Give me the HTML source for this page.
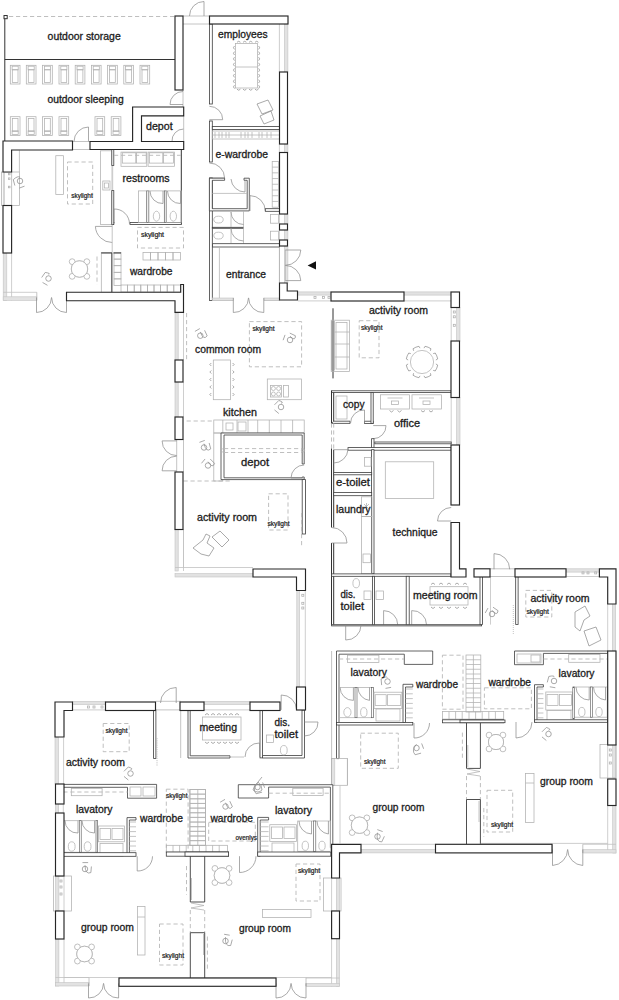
<!DOCTYPE html>
<html><head><meta charset="utf-8">
<style>
html,body{margin:0;padding:0;background:#fff;}
svg{display:block;}
text{font-family:"Liberation Sans",sans-serif;fill:#1c1c1c;stroke:#1c1c1c;stroke-width:0.3;}
.L{font-size:10px;}
.S{font-size:6.6px;stroke-width:0.22;}
.w{fill:#fff;stroke:#262626;stroke-width:1.15;}
.t{fill:#fff;stroke:#3c3c3c;stroke-width:0.8;}
.k{fill:none;stroke:#333;stroke-width:1;}
.g{fill:none;stroke:#b0b0b0;stroke-width:0.75;}
.gf{fill:#fff;stroke:#ababab;stroke-width:0.75;}
.dr{fill:none;stroke:#8e8e8e;stroke-width:0.75;}
.wb{fill:#e2e2e2;stroke:#c4c4c4;stroke-width:0.6;}
.wl{fill:none;stroke:#c2c2c2;stroke-width:0.8;}
.d{fill:none;stroke:#b8b8b8;stroke-width:0.9;stroke-dasharray:4.2 2.8;}
.cl{fill:none;stroke:#444;stroke-width:0.95;}
.t2{fill:#fff;stroke:#555;stroke-width:0.6;}
</style></head>
<body>
<svg width="619" height="1000" viewBox="0 0 619 1000">
<rect class="g" x="10.3" y="65.3" width="9.7" height="18.7"/>
<rect class="g" x="12.3" y="69.8" width="5.7" height="12.8"/>
<rect class="g" x="12.1" y="66.2" width="6.1" height="3.6"/>
<rect class="g" x="26.3" y="65.3" width="9.7" height="18.7"/>
<rect class="g" x="28.3" y="69.8" width="5.7" height="12.8"/>
<rect class="g" x="28.1" y="66.2" width="6.1" height="3.6"/>
<rect class="g" x="42.6" y="65.3" width="9.7" height="18.7"/>
<rect class="g" x="44.6" y="69.8" width="5.7" height="12.8"/>
<rect class="g" x="44.4" y="66.2" width="6.1" height="3.6"/>
<rect class="g" x="59" y="65.3" width="9.7" height="18.7"/>
<rect class="g" x="61" y="69.8" width="5.7" height="12.8"/>
<rect class="g" x="60.8" y="66.2" width="6.1" height="3.6"/>
<rect class="g" x="75.2" y="65.3" width="9.7" height="18.7"/>
<rect class="g" x="77.2" y="69.8" width="5.7" height="12.8"/>
<rect class="g" x="77" y="66.2" width="6.1" height="3.6"/>
<rect class="g" x="91.4" y="65.3" width="9.7" height="18.7"/>
<rect class="g" x="93.4" y="69.8" width="5.7" height="12.8"/>
<rect class="g" x="93.2" y="66.2" width="6.1" height="3.6"/>
<rect class="g" x="107.6" y="65.3" width="9.7" height="18.7"/>
<rect class="g" x="109.6" y="69.8" width="5.7" height="12.8"/>
<rect class="g" x="109.4" y="66.2" width="6.1" height="3.6"/>
<rect class="g" x="123.8" y="65.3" width="9.7" height="18.7"/>
<rect class="g" x="125.8" y="69.8" width="5.7" height="12.8"/>
<rect class="g" x="125.6" y="66.2" width="6.1" height="3.6"/>
<rect class="g" x="140" y="65.3" width="9.7" height="18.7"/>
<rect class="g" x="142" y="69.8" width="5.7" height="12.8"/>
<rect class="g" x="141.8" y="66.2" width="6.1" height="3.6"/>
<rect class="g" x="10.3" y="116.7" width="9.7" height="18.7"/>
<rect class="g" x="12.3" y="118.6" width="5.7" height="12.8"/>
<rect class="g" x="12.1" y="130.8" width="6.1" height="3.6"/>
<rect class="g" x="26.3" y="116.7" width="9.7" height="18.7"/>
<rect class="g" x="28.3" y="118.6" width="5.7" height="12.8"/>
<rect class="g" x="28.1" y="130.8" width="6.1" height="3.6"/>
<rect class="g" x="42.6" y="116.7" width="9.7" height="18.7"/>
<rect class="g" x="44.6" y="118.6" width="5.7" height="12.8"/>
<rect class="g" x="44.4" y="130.8" width="6.1" height="3.6"/>
<rect class="g" x="59" y="116.7" width="9.7" height="18.7"/>
<rect class="g" x="61" y="118.6" width="5.7" height="12.8"/>
<rect class="g" x="60.8" y="130.8" width="6.1" height="3.6"/>
<rect class="g" x="95" y="116.7" width="9.7" height="18.7"/>
<rect class="g" x="97" y="118.6" width="5.7" height="12.8"/>
<rect class="g" x="96.8" y="130.8" width="6.1" height="3.6"/>
<rect class="g" x="111.2" y="116.7" width="9.7" height="18.7"/>
<rect class="g" x="113.2" y="118.6" width="5.7" height="12.8"/>
<rect class="g" x="113" y="130.8" width="6.1" height="3.6"/>
<rect class="k" x="4" y="15.5" width="3.2" height="3.2"/>
<line class="k" x1="4.8" y1="18.7" x2="4.8" y2="141"/>
<line class="d" x1="9" y1="16.5" x2="175" y2="16.5"/>
<line class="k" x1="4.8" y1="59.5" x2="175" y2="59.5"/>
<line class="g" x1="72.5" y1="141.5" x2="90" y2="141.5"/>
<line class="g" x1="72.5" y1="149.5" x2="90" y2="149.5"/>
<path class="dr" d="M88.5,141.5 L88.5,127 A14.5,14.5 0 0 0 74,141.5"/>
<line class="g" x1="183" y1="90" x2="183" y2="107"/>
<path class="dr" d="M183,104.5 L170,104.5 A13,13 0 0 1 183,91.5"/>
<path class="dr" d="M183.7,141.5 L172,141.5 A11.7,11.7 0 0 1 183.7,129"/>
<line class="g" x1="183.7" y1="115.8" x2="183.7" y2="141.5"/>
<line class="g" x1="183" y1="16" x2="209.5" y2="16"/>
<line class="g" x1="183" y1="24" x2="209.5" y2="24"/>
<path class="dr" d="M204,16 L204,1.5 A14.5,14.5 0 0 0 189.5,16"/>
<rect class="g" x="1.4" y="172" width="18" height="33.5"/>
<rect class="wb" x="3.2" y="172" width="1.3" height="33.5"/>
<rect class="g" x="8.4" y="173.2" width="1.6" height="1.6"/>
<rect class="g" x="8.4" y="177.9" width="1.6" height="1.6"/>
<rect class="g" x="8.4" y="186.2" width="1.6" height="1.6"/>
<line class="g" x1="11.6" y1="172" x2="11.6" y2="205.5"/>
<line class="g" x1="19.4" y1="150.4" x2="19.4" y2="172"/>
<rect class="wb" x="3.2" y="253" width="3.6" height="47.4"/>
<line class="wl" x1="11.6" y1="253" x2="11.6" y2="300.4"/>
<rect class="wb" x="3.2" y="296.8" width="33.6" height="3.6"/>
<line class="wl" x1="3.2" y1="292.3" x2="36.8" y2="292.3"/>
<line class="g" x1="36.8" y1="292.3" x2="36.8" y2="300.4"/>
<line class="g" x1="66.5" y1="292.3" x2="66.5" y2="300.4"/>
<path class="dr" d="M36.5,297.5 L36.5,312.5 A15,15 0 0 0 51.5,297.5"/>
<path class="dr" d="M66.5,297.5 L66.5,312.5 A15,15 0 0 1 51.6,297.5"/>
<rect class="g" x="55.8" y="155.7" width="7.8" height="38.7"/>
<rect class="d" x="67.5" y="162" width="25.2" height="42"/>
<rect class="g" x="100.4" y="150.8" width="11.6" height="73.7"/>
<rect class="g" x="102.8" y="181" width="7.2" height="9"/>
<rect class="g" x="104.3" y="183" width="4.2" height="5"/>
<line class="wl" x1="112.7" y1="165.4" x2="112.7" y2="190.6"/>
<rect class="t" x="111.8" y="149.5" width="2" height="16"/>
<rect class="t" x="111.8" y="190.6" width="2" height="34"/>
<path class="dr" d="M112.2,226.4 L95.4,226.4 A16.8,16.8 0 0 0 112.2,242.5"/>
<line class="g" x1="112.2" y1="224.5" x2="112.2" y2="252.6"/>
<circle class="g" cx="79.5" cy="269" r="8.2"/>
<circle class="gf" cx="86.85" cy="276.35" r="2.9"/>
<circle class="gf" cx="72.15" cy="276.35" r="2.9"/>
<circle class="gf" cx="72.15" cy="261.65" r="2.9"/>
<circle class="gf" cx="86.85" cy="261.65" r="2.9"/>
<circle class="gf" cx="79.5" cy="269" r="8.2"/>
<line class="d" x1="97" y1="256.5" x2="97" y2="284.6"/>
<rect class="t" x="114" y="222.5" width="0.01" height="0.01"/>
<line class="k" x1="181.3" y1="149.5" x2="181.3" y2="224.5"/>
<rect class="t" x="130" y="222.5" width="51.3" height="2"/>
<path class="dr" d="M114,224 L114,209 A15,15 0 0 1 129.5,224"/>
<rect class="g" x="138.4" y="190.9" width="8.4" height="31.6"/>
<rect class="t2" x="146.8" y="190.9" width="2" height="31.6"/>
<rect class="g" x="148.8" y="190.9" width="15.5" height="31.6"/>
<rect class="t2" x="164.3" y="190.9" width="1.9" height="31.6"/>
<rect class="g" x="166.2" y="190.9" width="15" height="31.6"/>
<ellipse class="g" cx="156.5" cy="216.2" rx="3.2" ry="5"/>
<ellipse class="g" cx="173.3" cy="216.2" rx="3.2" ry="5"/>
<path class="dr" d="M163,191 L163,203.5 A12.5,12.5 0 0 1 150,191"/>
<path class="dr" d="M180.5,191 L180.5,203.5 A12.5,12.5 0 0 1 167.5,191"/>
<rect class="g" x="121" y="152.1" width="25.8" height="14.2"/>
<rect class="g" x="148.1" y="152.1" width="26.5" height="14.2"/>
<rect class="g" x="122.3" y="152.8" width="13.5" height="10.3"/>
<rect class="g" x="136.5" y="152.8" width="9.7" height="10.3"/>
<rect class="g" x="149.3" y="152.8" width="13.5" height="10.3"/>
<rect class="g" x="163.5" y="152.8" width="10" height="10.3"/>
<line class="d" x1="114" y1="155.3" x2="181" y2="155.3"/>
<rect class="d" x="137.5" y="227.4" width="46" height="20.6"/>
<rect class="g" x="143" y="252.5" width="7.5" height="7.5"/>
<rect class="g" x="150.5" y="252.5" width="7.5" height="7.5"/>
<rect class="g" x="158" y="252.5" width="7.5" height="7.5"/>
<rect class="g" x="165.5" y="252.5" width="7.5" height="7.5"/>
<rect class="g" x="173" y="252.5" width="7.5" height="7.5"/>
<rect class="g" x="114" y="252.5" width="7" height="6.6"/>
<rect class="g" x="114" y="259.1" width="7" height="6.6"/>
<rect class="g" x="114" y="265.7" width="7" height="6.6"/>
<rect class="g" x="114" y="272.3" width="7" height="6.6"/>
<rect class="g" x="114" y="278.9" width="7" height="6.6"/>
<rect class="g" x="121" y="285" width="6.6" height="7"/>
<rect class="g" x="127.6" y="285" width="6.6" height="7"/>
<rect class="g" x="134.2" y="285" width="6.6" height="7"/>
<rect class="g" x="140.8" y="285" width="6.6" height="7"/>
<rect class="g" x="147.4" y="285" width="6.6" height="7"/>
<rect class="g" x="154" y="285" width="6.6" height="7"/>
<rect class="g" x="160.6" y="285" width="6.6" height="7"/>
<rect class="g" x="167.2" y="285" width="6.6" height="7"/>
<rect class="g" x="173.8" y="285" width="6.6" height="7"/>
<rect class="g" x="101.3" y="252.6" width="10.7" height="39.7"/>
<line class="k" x1="101.3" y1="253" x2="112" y2="253"/>
<line class="cl" x1="111.8" y1="253" x2="111.8" y2="292.2"/>
<line class="k" x1="113.5" y1="253" x2="121" y2="253"/>
<rect class="t" x="209.4" y="24" width="2.9" height="80"/>
<path class="dr" d="M209.4,119.7 L222.7,119.7 A13.3,13.3 0 0 0 209.4,106.3"/>
<rect class="t" x="209.4" y="121" width="2.9" height="41"/>
<path class="dr" d="M209.4,178 L224.6,178 A15.2,15.2 0 0 0 209.4,163"/>
<rect class="t" x="209.4" y="178" width="2.9" height="122.5"/>
<rect class="wb" x="284.3" y="24" width="3.6" height="48"/>
<line class="wl" x1="279.4" y1="24" x2="279.4" y2="72"/>
<rect class="wb" x="284.3" y="144" width="3.6" height="8.5"/>
<line class="wl" x1="279.4" y1="144" x2="279.4" y2="152.5"/>
<rect class="wb" x="284.3" y="214" width="3.6" height="10"/>
<line class="wl" x1="279.4" y1="214" x2="279.4" y2="224"/>
<rect class="wb" x="284.3" y="230" width="3.6" height="10"/>
<line class="wl" x1="279.4" y1="230" x2="279.4" y2="240"/>
<rect class="wb" x="284.3" y="246" width="3.6" height="37"/>
<line class="wl" x1="279.4" y1="246" x2="279.4" y2="283"/>
<rect class="g" x="235.5" y="43.4" width="22.1" height="44.6"/>
<line class="g" x1="235.5" y1="67" x2="257.6" y2="67"/>
<path class="dr" d="M234.5,46.0 a2.2,2.2 0 0 0 0,3.4 M258.6,46.0 a2.2,2.2 0 0 1 0,3.4"/>
<path class="dr" d="M234.5,51.6 a2.2,2.2 0 0 0 0,3.4 M258.6,51.6 a2.2,2.2 0 0 1 0,3.4"/>
<path class="dr" d="M234.5,57.2 a2.2,2.2 0 0 0 0,3.4 M258.6,57.2 a2.2,2.2 0 0 1 0,3.4"/>
<path class="dr" d="M234.5,62.8 a2.2,2.2 0 0 0 0,3.4 M258.6,62.8 a2.2,2.2 0 0 1 0,3.4"/>
<path class="dr" d="M234.5,68.4 a2.2,2.2 0 0 0 0,3.4 M258.6,68.4 a2.2,2.2 0 0 1 0,3.4"/>
<path class="dr" d="M234.5,74.0 a2.2,2.2 0 0 0 0,3.4 M258.6,74.0 a2.2,2.2 0 0 1 0,3.4"/>
<path class="dr" d="M234.5,79.6 a2.2,2.2 0 0 0 0,3.4 M258.6,79.6 a2.2,2.2 0 0 1 0,3.4"/>
<path class="dr" d="M234.5,85.2 a2.2,2.2 0 0 0 0,3.4 M258.6,85.2 a2.2,2.2 0 0 1 0,3.4"/>
<path class="dr" d="M237,42.3 a2.2,2.2 0 0 1 3.4,0 M237,89.2 a2.2,2.2 0 0 0 3.4,0"/>
<path class="dr" d="M243,42.3 a2.2,2.2 0 0 1 3.4,0 M243,89.2 a2.2,2.2 0 0 0 3.4,0"/>
<path class="dr" d="M249,42.3 a2.2,2.2 0 0 1 3.4,0 M249,89.2 a2.2,2.2 0 0 0 3.4,0"/>
<path class="dr" d="M255,42.3 a2.2,2.2 0 0 1 3.4,0 M255,89.2 a2.2,2.2 0 0 0 3.4,0"/>
<path class="dr" d="M257,104 L268,100 L273,110 L262,114 Z M260,116 L271,111 L274,120 L264,124 Z"/>
<rect class="t" x="212.3" y="126.5" width="67.1" height="3"/>
<rect class="g" x="212.3" y="131" width="67.1" height="8"/>
<line class="g" x1="212.3" y1="135" x2="279.4" y2="135"/>
<line class="g" x1="215" y1="132" x2="215" y2="138"/>
<line class="g" x1="219" y1="132" x2="219" y2="138"/>
<line class="g" x1="222" y1="132" x2="222" y2="138"/>
<line class="g" x1="226" y1="132" x2="226" y2="138"/>
<line class="g" x1="229" y1="132" x2="229" y2="138"/>
<line class="g" x1="241" y1="132" x2="241" y2="138"/>
<line class="g" x1="245" y1="132" x2="245" y2="138"/>
<line class="g" x1="248" y1="132" x2="248" y2="138"/>
<line class="g" x1="252" y1="132" x2="252" y2="138"/>
<line class="g" x1="259" y1="132" x2="259" y2="138"/>
<line class="g" x1="262" y1="132" x2="262" y2="138"/>
<line class="g" x1="267" y1="132" x2="267" y2="138"/>
<line class="g" x1="271" y1="132" x2="271" y2="138"/>
<rect class="g" x="272.2" y="161.4" width="6.2" height="45.8"/>
<line class="g" x1="272.2" y1="167.12" x2="278.4" y2="167.12"/>
<line class="g" x1="272.2" y1="172.84" x2="278.4" y2="172.84"/>
<line class="g" x1="272.2" y1="178.56" x2="278.4" y2="178.56"/>
<line class="g" x1="272.2" y1="184.28" x2="278.4" y2="184.28"/>
<line class="g" x1="272.2" y1="190" x2="278.4" y2="190"/>
<line class="g" x1="272.2" y1="195.72" x2="278.4" y2="195.72"/>
<line class="g" x1="272.2" y1="201.44" x2="278.4" y2="201.44"/>
<path class="t" d="M224.6,178.2 L209.4,178.2 L209.4,210.9 L249.3,210.9 L249.3,178.2 L244,178.2 L244,180.3 L247.2,180.3 L247.2,208.7 L212.3,208.7 L212.3,180.3 L224.6,180.3 Z"/>
<line class="g" x1="212.3" y1="193.4" x2="247.2" y2="193.4"/>
<path class="dr" d="M231,179 A14,14 0 0 0 245,192 L245,180"/>
<path class="dr" d="M250,211 L250,195.6 A15.4,15.4 0 0 1 265.3,211"/>
<rect class="t" x="265.3" y="208.7" width="14.1" height="2.6"/>
<rect class="t" x="212.3" y="227.3" width="31.2" height="1"/>
<line class="g" x1="243.5" y1="211" x2="243.5" y2="243.6"/>
<ellipse class="g" cx="218.5" cy="219.6" rx="4.7" ry="3.4"/>
<ellipse class="g" cx="218.5" cy="235.6" rx="4.7" ry="3.4"/>
<path class="dr" d="M231,212 A12.5,12.5 0 0 0 243.5,224.5 M231,228.5 A12.5,12.5 0 0 0 243.5,241"/>
<line class="g" x1="231" y1="212" x2="231" y2="227"/>
<line class="g" x1="231" y1="228.5" x2="231" y2="243"/>
<rect class="g" x="270.4" y="214.5" width="8" height="8.7"/>
<rect class="g" x="270.4" y="231.2" width="8" height="8.8"/>
<rect class="t" x="212.6" y="243.7" width="66.9" height="3.3"/>
<line class="g" x1="219.4" y1="247" x2="219.4" y2="298"/>
<line class="g" x1="279.5" y1="247" x2="279.5" y2="283"/>
<line class="g" x1="285.3" y1="250" x2="285.3" y2="280.6"/>
<path class="dr" d="M285.3,250 L300.8,250 A15.5,15.5 0 0 1 285.3,265.3"/>
<path class="dr" d="M285.3,280.6 L300.8,280.6 A15.5,15.5 0 0 0 285.3,265.4"/>
<path d="M307.6,265.4 L316,261.2 L316,269.6 Z" fill="#111"/>
<rect class="wb" x="212.6" y="298" width="20.7" height="2.5"/>
<line class="wl" x1="212.6" y1="300.5" x2="233.3" y2="300.5"/>
<rect class="wb" x="264" y="298" width="15.5" height="2.5"/>
<line class="wl" x1="264" y1="300.5" x2="279.5" y2="300.5"/>
<path class="dr" d="M233.3,297.9 L233.3,312.5 A14.6,14.6 0 0 0 248.5,297.9"/>
<path class="dr" d="M263.8,297.9 L263.8,312.5 A14.6,14.6 0 0 1 248.6,297.9"/>
<rect class="wb" x="175" y="313" width="3.2" height="47"/>
<line class="wl" x1="183.5" y1="313" x2="183.5" y2="360"/>
<rect class="wb" x="175" y="382" width="3.2" height="35"/>
<line class="wl" x1="183.5" y1="382" x2="183.5" y2="417"/>
<rect class="wb" x="175" y="529.5" width="3.2" height="41.5"/>
<line class="wl" x1="183.5" y1="529.5" x2="183.5" y2="571"/>
<rect class="wb" x="175" y="573.6" width="78" height="3.4"/>
<line class="wl" x1="175" y1="567.5" x2="253" y2="567.5"/>
<line class="wl" x1="183.5" y1="529.5" x2="183.5" y2="567.5"/>
<line class="g" x1="176.7" y1="439.5" x2="176.7" y2="472"/>
<line class="g" x1="183.5" y1="439.5" x2="183.5" y2="472"/>
<path class="dr" d="M176.7,440.9 L162.1,440.9 A14.6,14.6 0 0 0 176.7,455.6"/>
<path class="dr" d="M176.7,470.8 L162.1,470.8 A14.6,14.6 0 0 1 176.7,456.1"/>
<line class="d" x1="186.6" y1="313" x2="186.6" y2="359.6"/>
<line class="d" x1="186.6" y1="421" x2="213.8" y2="421"/>
<line class="d" x1="183.5" y1="481" x2="230.6" y2="481"/>
<rect class="d" x="249.4" y="321.6" width="52.2" height="45.2"/>
<rect class="g" x="213.3" y="360" width="17.3" height="39.7"/>
<path class="dr" d="M211.3,363.0 l-1.5,1.5 l1.5,1.5 M232.6,363.0 l1.5,1.5 l-1.5,1.5"/>
<path class="dr" d="M211.3,370.5 l-1.5,1.5 l1.5,1.5 M232.6,370.5 l1.5,1.5 l-1.5,1.5"/>
<path class="dr" d="M211.3,378.0 l-1.5,1.5 l1.5,1.5 M232.6,378.0 l1.5,1.5 l-1.5,1.5"/>
<path class="dr" d="M211.3,385.5 l-1.5,1.5 l1.5,1.5 M232.6,385.5 l1.5,1.5 l-1.5,1.5"/>
<path class="dr" d="M211.3,393.0 l-1.5,1.5 l1.5,1.5 M232.6,393.0 l1.5,1.5 l-1.5,1.5"/>
<rect class="g" x="267.3" y="379" width="34.3" height="20.7"/>
<rect class="g" x="270.6" y="385.5" width="10.9" height="11.5"/>
<rect class="g" x="283.6" y="385.5" width="5" height="11.5"/>
<circle class="g" cx="273.4" cy="388.5" r="2"/>
<circle class="g" cx="278.6" cy="388.5" r="2"/>
<circle class="g" cx="273.4" cy="394" r="2"/>
<circle class="g" cx="278.6" cy="394" r="2"/>
<rect class="g" x="213.8" y="420" width="90.4" height="13"/>
<line class="g" x1="222.8" y1="420" x2="222.8" y2="433"/>
<line class="g" x1="237" y1="420" x2="237" y2="433"/>
<line class="g" x1="248" y1="420" x2="248" y2="433"/>
<line class="g" x1="257.7" y1="420" x2="257.7" y2="433"/>
<line class="g" x1="269.3" y1="420" x2="269.3" y2="433"/>
<line class="g" x1="281" y1="420" x2="281" y2="433"/>
<line class="g" x1="292.6" y1="420" x2="292.6" y2="433"/>
<rect class="g" x="226" y="423" width="7" height="7"/>
<rect class="g" x="238" y="422" width="8" height="9"/>
<rect class="g" x="213.8" y="433" width="9" height="48"/>
<path class="t" d="M221,433 L304.2,433 L304.2,464 L302.2,464 L302.2,435 L224,435 L224,477.8 L302.2,477.8 L302.2,477 L304.2,477 L304.2,479.6 L221,479.6 Z"/>
<line class="d" x1="224" y1="448.6" x2="302" y2="448.6"/>
<line class="d" x1="224" y1="452.5" x2="302" y2="452.5"/>
<circle class="g" cx="222.8" cy="450.4" r="1.6"/><circle class="g" cx="303" cy="450.4" r="1.6"/>
<path class="dr" d="M304.2,478 L291,478 A13.2,13.2 0 0 1 304.2,465"/>
<rect class="t" x="302.2" y="479.6" width="3.3" height="54.4"/>
<line class="d" x1="301.6" y1="513" x2="301.6" y2="545.5"/>
<rect class="d" x="268.6" y="493.8" width="19.4" height="36.2"/>
<path class="dr" d="M193,548 L203,540 L206,534 L210,536 L207,543 L214,548 L209,556 L201,554 Z M212,537 L220,531 L229,540 L222,547 Z"/>
<rect class="wb" x="297.9" y="291.9" width="33.3" height="3.2"/>
<line class="wl" x1="297.9" y1="300.9" x2="331.2" y2="300.9"/>
<rect class="g" x="314" y="296.4" width="2" height="2"/>
<rect class="g" x="322.5" y="296.4" width="2" height="2"/>
<rect class="g" x="328" y="296.4" width="2" height="2"/>
<rect class="wb" x="403.7" y="291.9" width="47.5" height="3.2"/>
<line class="wl" x1="403.7" y1="300.9" x2="451.2" y2="300.9"/>
<rect class="wb" x="456.6" y="307.5" width="3.4" height="33.8"/>
<line class="wl" x1="451.2" y1="307.5" x2="451.2" y2="341.3"/>
<rect class="g" x="453.3" y="311" width="2" height="2"/>
<rect class="g" x="453.3" y="315.8" width="2" height="2"/>
<rect class="g" x="453.3" y="324.3" width="2" height="2"/>
<rect class="wb" x="456.6" y="397.5" width="3.4" height="47.5"/>
<line class="wl" x1="451.2" y1="397.5" x2="451.2" y2="445"/>
<line class="k" x1="333" y1="308.3" x2="333" y2="378.4"/>
<rect class="g" x="331.2" y="320.2" width="18.4" height="51.3"/>
<rect x="331.4" y="321" width="3.2" height="49.5" fill="#999"/>
<line class="g" x1="334.5" y1="332" x2="349.6" y2="332"/>
<line class="g" x1="334.5" y1="344" x2="349.6" y2="344"/>
<line class="g" x1="334.5" y1="357" x2="349.6" y2="357"/>
<rect class="g" x="336" y="322.5" width="11" height="46.5"/>
<rect class="d" x="359.2" y="320.7" width="19.8" height="37.1"/>
<circle class="g" cx="422" cy="362" r="11.6"/>
<path class="dr" d="M435.86,363.99 L437.70,365.06 A16,16 0 0 1 435.27,370.94 L433.21,370.39"/>
<path class="dr" d="M430.39,373.21 L430.94,375.27 A16,16 0 0 1 425.06,377.70 L423.99,375.86"/>
<path class="dr" d="M420.01,375.86 L418.94,377.70 A16,16 0 0 1 413.06,375.27 L413.61,373.21"/>
<path class="dr" d="M410.79,370.39 L408.73,370.94 A16,16 0 0 1 406.30,365.06 L408.14,363.99"/>
<path class="dr" d="M408.14,360.01 L406.30,358.94 A16,16 0 0 1 408.73,353.06 L410.79,353.61"/>
<path class="dr" d="M413.61,350.79 L413.06,348.73 A16,16 0 0 1 418.94,346.30 L420.01,348.14"/>
<path class="dr" d="M423.99,348.14 L425.06,346.30 A16,16 0 0 1 430.94,348.73 L430.39,350.79"/>
<path class="dr" d="M433.21,353.61 L435.27,353.06 A16,16 0 0 1 437.70,358.94 L435.86,360.01"/>
<rect class="t" x="331.5" y="390.8" width="119.7" height="1.8"/>
<line class="k" x1="331.5" y1="390.8" x2="331.5" y2="423.4"/>
<line class="k" x1="333.7" y1="392.6" x2="333.7" y2="421.2"/>
<path class="t" d="M333.7,421.2 L350,421.2 L350,423.4 L331.5,423.4 Z"/>
<rect class="t" x="364.5" y="421.2" width="8.7" height="2.2"/>
<rect class="t" x="371" y="392.6" width="2.2" height="30.8"/>
<rect class="g" x="336" y="396" width="11" height="23"/>
<path class="dr" d="M364.5,423.4 L364.5,410 A13.4,13.4 0 0 0 350.5,423.4"/>
<rect class="g" x="380.5" y="394.8" width="29" height="14.2"/>
<rect class="g" x="412" y="394.8" width="29.4" height="14.2"/>
<line class="g" x1="387.5" y1="398" x2="402.5" y2="398"/>
<rect class="g" x="391.5" y="401" width="7" height="3.5"/>
<path class="dr" d="M389.5,410.5 l2,1.5 l2,-1.5 M397.5,410.5 l2,1.5 l2,-1.5"/>
<line class="g" x1="419" y1="398" x2="434" y2="398"/>
<rect class="g" x="423" y="401" width="7" height="3.5"/>
<path class="dr" d="M421,410.5 l2,1.5 l2,-1.5 M429,410.5 l2,1.5 l2,-1.5"/>
<path class="dr" d="M373.2,425.6 L386,425.6 A12.8,12.8 0 0 1 373.2,438.7"/>
<rect class="t" x="371.6" y="438.7" width="2.4" height="11"/>
<rect class="t" x="374.8" y="442" width="76.4" height="1.8"/>
<rect class="t" x="348" y="447.6" width="103.2" height="2.6"/>
<line class="d" x1="331.5" y1="423.4" x2="331.5" y2="448.6"/>
<line class="d" x1="333.7" y1="423.4" x2="333.7" y2="448.6"/>
<line class="k" x1="331.5" y1="448.6" x2="331.5" y2="527.5"/>
<line class="k" x1="333.7" y1="449.7" x2="333.7" y2="527.5"/>
<line class="k" x1="331.5" y1="543" x2="331.5" y2="625.2"/>
<line class="k" x1="333.7" y1="543" x2="333.7" y2="624.7"/>
<rect class="t" x="371.6" y="449.7" width="2.4" height="124"/>
<path class="dr" d="M333.7,449.7 L348,449.7 A14.3,14.3 0 0 1 333.7,463"/>
<rect class="g" x="364.5" y="457.4" width="6.5" height="8.8"/>
<rect class="t" x="333.7" y="472.6" width="38" height="2.2"/>
<rect class="t" x="333.7" y="492.4" width="38" height="3.3"/>
<rect class="g" x="361.6" y="496.8" width="10.4" height="19.7"/>
<rect class="g" x="361.6" y="516.5" width="10.4" height="57.2"/>
<rect class="g" x="363" y="554" width="7.5" height="8.7"/>
<path class="g" d="M364,504 l5,5 M369,504 l-5,5 M366.5,503 v7"/>
<path class="dr" d="M331.5,543 L347,543 A15.5,15.5 0 0 0 331.5,527.5"/>
<rect class="g" x="385.3" y="461.8" width="48.4" height="36.7"/>
<path class="dr" d="M451.2,521 L437.5,521 A13.7,13.7 0 0 1 451.2,507.5"/>
<rect class="t" x="331.6" y="573.9" width="119.4" height="2.4"/>
<rect class="t" x="372.4" y="576.3" width="2" height="48.9"/>
<rect class="t" x="406.2" y="576.3" width="3" height="48.9"/>
<ellipse class="g" cx="356.2" cy="583.2" rx="3.3" ry="4.6"/>
<rect class="g" x="364" y="591" width="7" height="8.4"/>
<rect class="g" x="376" y="591" width="7.6" height="8.4"/>
<path class="dr" d="M383.6,624.7 L383.6,610.6 A14.1,14.1 0 0 1 397.7,624.7"/>
<path class="dr" d="M411.7,624.7 L411.7,610.6 A14.1,14.1 0 0 1 426.5,624.7"/>
<rect class="g" x="430" y="586.7" width="38" height="18.3"/>
<path class="dr" d="M431,584.5 l2,-1.5 l2,1.5 M431,607 l2,1.5 l2,-1.5"/>
<path class="dr" d="M439,584.5 l2,-1.5 l2,1.5 M439,607 l2,1.5 l2,-1.5"/>
<path class="dr" d="M447,584.5 l2,-1.5 l2,1.5 M447,607 l2,1.5 l2,-1.5"/>
<path class="dr" d="M455,584.5 l2,-1.5 l2,1.5 M455,607 l2,1.5 l2,-1.5"/>
<path class="dr" d="M463,584.5 l2,-1.5 l2,1.5 M463,607 l2,1.5 l2,-1.5"/>
<rect class="t" x="331.6" y="624.7" width="150" height="1.2"/>
<path class="dr" d="M345.7,625.2 L345.7,640 A14.8,14.8 0 0 0 361,625.2"/>
<rect class="t" x="480" y="576.5" width="2.5" height="48.1"/>
<line class="wl" x1="490.5" y1="576.5" x2="490.5" y2="624.6"/>
<line class="g" x1="490" y1="568.8" x2="515.7" y2="568.8"/>
<line class="g" x1="490" y1="576.5" x2="515.7" y2="576.5"/>
<path class="dr" d="M494,569.3 L494,553.6 A15.7,15.7 0 0 1 509.7,569.3"/>
<rect class="t" x="515.7" y="576.5" width="2.4" height="48.1"/>
<rect class="wb" x="566.3" y="568.8" width="33.7" height="3.3"/>
<line class="wl" x1="566.3" y1="576.5" x2="600" y2="576.5"/>
<rect class="g" x="582" y="571.9" width="2" height="2"/>
<rect class="g" x="587" y="571.9" width="2" height="2"/>
<rect class="g" x="594.7" y="571.9" width="2" height="2"/>
<rect class="wb" x="612.3" y="603" width="3.3" height="48"/>
<line class="wl" x1="607.7" y1="603" x2="607.7" y2="651"/>
<rect class="d" x="525.8" y="590.4" width="26" height="26.6"/>
<path class="g" d="M513.3,605 v29" style="stroke-dasharray:1 1"/>
<path class="dr" d="M575,612 L585,606 L590,616 L584,620 L580,631 L575,627 Z M584,631 L596,627 L601,640 L589,646 Z"/>
<line class="g" x1="331.6" y1="651" x2="331.6" y2="844.3"/>
<path class="t" d="M336.5,651 L432.7,651 L432.7,664.4 L404.3,664.4 L404.3,654.2 L339,654.2 L339,758.6 L336.5,758.6 Z"/>
<rect class="g" x="347.4" y="655.2" width="31.5" height="7.2"/>
<line class="d" x1="339" y1="659" x2="404" y2="659"/>
<rect class="g" x="339" y="687.4" width="34" height="30.3"/>
<rect class="t2" x="355" y="687.4" width="2" height="30.3"/>
<rect class="t2" x="371.6" y="687.4" width="1.7" height="30.3"/>
<path class="dr" d="M353.4,687.4 L353.4,700.4 A13,13 0 0 1 340.1,687.4"/>
<path class="dr" d="M369.5,687.4 L369.5,700.4 A13,13 0 0 1 358,687.4"/>
<ellipse class="g" cx="347.4" cy="712.3" rx="3.6" ry="4.7"/><ellipse class="g" cx="363.8" cy="712.3" rx="3.2" ry="4.7"/>
<rect class="g" x="374" y="692.2" width="27.9" height="16.3"/>
<rect class="g" x="375.2" y="694.7" width="11" height="10.9"/>
<rect class="g" x="387.4" y="694.7" width="13.3" height="10.9"/>
<rect class="g" x="376" y="709" width="24" height="12"/>
<rect class="t" x="336.5" y="722.5" width="76.3" height="2.5"/>
<path class="t" d="M403,722.5 L403,684.3 L412.8,684.3 L412.8,687 L405.5,687 L405.5,722.5 Z"/>
<line class="g" x1="405.5" y1="689" x2="412.8" y2="689"/>
<line class="g" x1="405.5" y1="693.8" x2="412.8" y2="693.8"/>
<line class="g" x1="405.5" y1="698.6" x2="412.8" y2="698.6"/>
<line class="g" x1="405.5" y1="703.4" x2="412.8" y2="703.4"/>
<line class="g" x1="405.5" y1="708.2" x2="412.8" y2="708.2"/>
<line class="g" x1="405.5" y1="713" x2="412.8" y2="713"/>
<line class="g" x1="405.5" y1="717.8" x2="412.8" y2="717.8"/>
<rect class="d" x="442.4" y="655.2" width="20.6" height="54"/>
<rect class="g" x="466" y="655" width="14.8" height="57"/>
<line class="g" x1="466" y1="659.75" x2="480.8" y2="659.75"/>
<line class="g" x1="466" y1="664.5" x2="480.8" y2="664.5"/>
<line class="g" x1="466" y1="669.25" x2="480.8" y2="669.25"/>
<line class="g" x1="466" y1="674" x2="480.8" y2="674"/>
<line class="g" x1="466" y1="678.75" x2="480.8" y2="678.75"/>
<line class="g" x1="466" y1="683.5" x2="480.8" y2="683.5"/>
<line class="g" x1="466" y1="688.25" x2="480.8" y2="688.25"/>
<line class="g" x1="466" y1="693" x2="480.8" y2="693"/>
<line class="g" x1="466" y1="697.75" x2="480.8" y2="697.75"/>
<line class="g" x1="466" y1="702.5" x2="480.8" y2="702.5"/>
<line class="g" x1="466" y1="707.25" x2="480.8" y2="707.25"/>
<line class="g" x1="473.4" y1="655" x2="473.4" y2="712"/>
<rect class="g" x="442.4" y="711.6" width="61.3" height="7.5"/>
<line class="g" x1="449" y1="711.6" x2="449" y2="719.1"/>
<line class="g" x1="455.6" y1="711.6" x2="455.6" y2="719.1"/>
<line class="g" x1="462.2" y1="711.6" x2="462.2" y2="719.1"/>
<line class="g" x1="469" y1="711.6" x2="469" y2="719.1"/>
<line class="g" x1="475.6" y1="711.6" x2="475.6" y2="719.1"/>
<line class="g" x1="482.2" y1="711.6" x2="482.2" y2="719.1"/>
<line class="g" x1="488.8" y1="711.6" x2="488.8" y2="719.1"/>
<line class="g" x1="495.4" y1="711.6" x2="495.4" y2="719.1"/>
<rect class="t" x="442.4" y="719.8" width="61.3" height="3"/>
<path class="dr" d="M414,723 L414,738 A15,15 0 0 0 429.5,723"/>
<path class="t" d="M514.5,651 L607.7,651 L607.7,653.4 L543.4,653.4 L543.4,664.7 L514.5,664.7 Z"/>
<rect class="g" x="517" y="654" width="24" height="9"/>
<rect class="g" x="531" y="655" width="9" height="7"/>
<rect class="g" x="568.7" y="654.6" width="31.3" height="7.7"/>
<line class="d" x1="543.4" y1="659" x2="607" y2="659"/>
<rect class="d" x="484.4" y="687.8" width="47" height="21"/>
<path class="t" d="M534.5,722 L534.5,684.7 L543.4,684.7 L543.4,687 L537,687 L537,722 Z"/>
<line class="g" x1="537" y1="689" x2="543.4" y2="689"/>
<line class="g" x1="537" y1="693.8" x2="543.4" y2="693.8"/>
<line class="g" x1="537" y1="698.6" x2="543.4" y2="698.6"/>
<line class="g" x1="537" y1="703.4" x2="543.4" y2="703.4"/>
<line class="g" x1="537" y1="708.2" x2="543.4" y2="708.2"/>
<line class="g" x1="537" y1="713" x2="543.4" y2="713"/>
<line class="g" x1="537" y1="717.8" x2="543.4" y2="717.8"/>
<rect class="g" x="545.8" y="692" width="26.5" height="18"/>
<rect class="g" x="547" y="694.5" width="11" height="11"/>
<rect class="g" x="559.5" y="694.5" width="12" height="11"/>
<rect class="g" x="547" y="710.5" width="24" height="10"/>
<rect class="g" x="573.5" y="687" width="33.7" height="30.2"/>
<rect class="t2" x="572.8" y="687" width="1.8" height="32"/>
<rect class="t2" x="590.4" y="687" width="2.2" height="30.2"/>
<path class="dr" d="M589.2,687 L589.2,700 A13,13 0 0 1 576,687"/>
<path class="dr" d="M605.5,687 L605.5,700 A13,13 0 0 1 593.5,687"/>
<ellipse class="g" cx="581.8" cy="712" rx="3.2" ry="4.6"/><ellipse class="g" cx="599" cy="712" rx="3.2" ry="4.6"/>
<rect class="t" x="534.5" y="719.8" width="73.2" height="2.5"/>
<rect class="t" x="460" y="720" width="45" height="2.7"/>
<path class="dr" d="M516,722 L516,738 A16,16 0 0 0 532,722"/>
<rect class="wb" x="331.6" y="758.6" width="3.2" height="26.7"/>
<line class="wl" x1="347.4" y1="758.6" x2="347.4" y2="785.3"/>
<rect class="g" x="331.6" y="758.6" width="15.8" height="26.7"/>
<line class="wl" x1="340" y1="785.3" x2="340" y2="843.4"/>
<rect class="d" x="360.7" y="733.2" width="37.6" height="35.1"/>
<circle class="g" cx="359.5" cy="825.2" r="8.2"/>
<circle class="gf" cx="366.85" cy="832.55" r="2.9"/>
<circle class="gf" cx="352.15" cy="832.55" r="2.9"/>
<circle class="gf" cx="352.15" cy="817.85" r="2.9"/>
<circle class="gf" cx="366.85" cy="817.85" r="2.9"/>
<circle class="gf" cx="359.5" cy="825.2" r="8.2"/>
<rect class="wb" x="361" y="849.5" width="74.5" height="3.4"/>
<line class="wl" x1="361" y1="844.3" x2="435.5" y2="844.3"/>
<line class="d" x1="462.4" y1="732.6" x2="462.4" y2="759.6"/>
<path class="cl" d="M466.5,723 L466.5,768.4 L480.4,768.4 L480.4,723"/>
<line class="g" x1="467.8" y1="745" x2="467.8" y2="767"/>
<path class="g" d="M467,769 L480,771.5 L467,774 L480,776"/>
<line class="d" x1="466.5" y1="776" x2="466.5" y2="799.5"/>
<line class="d" x1="480.4" y1="776" x2="480.4" y2="799.5"/>
<path class="cl" d="M466.5,844 L466.5,799.5 L480.4,799.5 L480.4,844"/>
<line class="g" x1="479" y1="801" x2="479" y2="822"/>
<line class="d" x1="483.8" y1="808" x2="483.8" y2="836.6"/>
<circle class="g" cx="496" cy="742" r="7.6"/>
<circle class="gf" cx="502.93" cy="748.93" r="2.9"/>
<circle class="gf" cx="489.07" cy="748.93" r="2.9"/>
<circle class="gf" cx="489.07" cy="735.07" r="2.9"/>
<circle class="gf" cx="502.93" cy="735.07" r="2.9"/>
<circle class="gf" cx="496" cy="742" r="7.6"/>
<rect class="wb" x="612.7" y="744.5" width="3.3" height="33.5"/>
<line class="wl" x1="607.7" y1="744.5" x2="607.7" y2="778"/>
<rect class="g" x="600" y="744.5" width="16" height="33.5"/>
<rect class="g" x="609.3" y="749" width="2" height="2"/>
<rect class="g" x="609.3" y="754" width="2" height="2"/>
<rect class="g" x="609.3" y="762" width="2" height="2"/>
<rect class="wb" x="612.7" y="805.5" width="3.3" height="47.5"/>
<line class="wl" x1="607.7" y1="805.5" x2="607.7" y2="853"/>
<rect class="wb" x="582.8" y="849.7" width="33.2" height="3.3"/>
<line class="wl" x1="582.8" y1="844.3" x2="616" y2="844.3"/>
<rect class="g" x="525.5" y="773.6" width="8.5" height="48.8"/>
<line class="g" x1="525.5" y1="783" x2="534" y2="783"/>
<rect class="d" x="487" y="790.3" width="25.7" height="41.7"/>
<line class="g" x1="552.5" y1="844.3" x2="552.5" y2="852.9"/>
<line class="g" x1="582.8" y1="844.3" x2="582.8" y2="852.9"/>
<path class="dr" d="M552.5,849.5 L552.5,865.5 A16,16 0 0 0 567.6,849.5"/>
<path class="dr" d="M582.8,849.5 L582.8,865.5 A16,16 0 0 1 567.7,849.5"/>
<line class="wl" x1="480.5" y1="843.4" x2="607.7" y2="843.4"/>
<rect class="g" x="323.6" y="878" width="17.4" height="33"/>
<rect class="wb" x="336.3" y="878" width="3.2" height="33"/>
<line class="wl" x1="331.6" y1="878" x2="331.6" y2="911"/>
<rect class="wb" x="336.3" y="938.7" width="3.2" height="47.9"/>
<line class="wl" x1="331.6" y1="938.7" x2="331.6" y2="986.6"/>
<rect class="wb" x="306" y="983.4" width="33.5" height="3.2"/>
<line class="wl" x1="306" y1="978" x2="339.5" y2="978"/>
<rect class="wb" x="72.6" y="701.3" width="32.8" height="3.2"/>
<line class="wl" x1="72.6" y1="709.9" x2="105.4" y2="709.9"/>
<rect class="g" x="87.5" y="706" width="2" height="2"/>
<rect class="g" x="93" y="706" width="2" height="2"/>
<rect class="g" x="101" y="706" width="2" height="2"/>
<rect class="t" x="153.6" y="709.9" width="2.3" height="48.6"/>
<path class="g" d="M157,738 v28" style="stroke-dasharray:1.2 1"/>
<line class="g" x1="155.9" y1="701.3" x2="180.7" y2="701.3"/>
<line class="g" x1="155.9" y1="709.9" x2="180.7" y2="709.9"/>
<path class="dr" d="M176.2,703 L176.2,687.5 A15.5,15.5 0 0 0 160.5,703"/>
<rect class="wb" x="55" y="737.5" width="3.4" height="46.5"/>
<line class="wl" x1="63.6" y1="737.5" x2="63.6" y2="784"/>
<rect class="d" x="103.2" y="723.5" width="26" height="28.2"/>
<path class="t" d="M63.3,784.4 L156.6,784.4 L156.6,798.2 L127.5,798.2 L127.5,787.3 L63.3,787.3 Z"/>
<rect class="g" x="130" y="787" width="11" height="9"/>
<rect class="g" x="143" y="787" width="12" height="9"/>
<rect class="g" x="71.3" y="788.5" width="30.8" height="7.2"/>
<line class="d" x1="63.3" y1="792" x2="127.5" y2="792"/>
<rect class="wb" x="55.3" y="803.7" width="3.4" height="9.7"/>
<line class="wl" x1="63.3" y1="803.7" x2="63.3" y2="813.4"/>
<rect class="g" x="63.3" y="820.7" width="34" height="31.5"/>
<rect class="t2" x="79.6" y="820.7" width="1.6" height="31.5"/>
<rect class="t2" x="96" y="820.7" width="1.7" height="31.5"/>
<path class="dr" d="M78,820.7 L78,833 A12.3,12.3 0 0 1 65,820.7"/>
<path class="dr" d="M94.5,820.7 L94.5,833 A12.3,12.3 0 0 1 82,820.7"/>
<ellipse class="g" cx="71.7" cy="846.5" rx="3.4" ry="4.7"/><ellipse class="g" cx="87.6" cy="846.5" rx="3.4" ry="4.7"/>
<rect class="g" x="98.5" y="826" width="26.1" height="15.8"/>
<rect class="g" x="100" y="828.5" width="10.5" height="11"/>
<rect class="g" x="112" y="828.5" width="11" height="11"/>
<rect class="g" x="100" y="843.5" width="23" height="13"/>
<path class="t" d="M127,855 L127,817.6 L136,817.6 L136,820 L129.4,820 L129.4,855 Z"/>
<line class="g" x1="129.4" y1="822" x2="136" y2="822"/>
<line class="g" x1="129.4" y1="826.8" x2="136" y2="826.8"/>
<line class="g" x1="129.4" y1="831.6" x2="136" y2="831.6"/>
<line class="g" x1="129.4" y1="836.4" x2="136" y2="836.4"/>
<line class="g" x1="129.4" y1="841.2" x2="136" y2="841.2"/>
<line class="g" x1="129.4" y1="846" x2="136" y2="846"/>
<line class="g" x1="129.4" y1="850.8" x2="136" y2="850.8"/>
<rect class="t" x="63.3" y="852.7" width="72.7" height="3.6"/>
<path class="dr" d="M137.2,856.3 L137.2,871 A14.7,14.7 0 0 0 152.5,856.3"/>
<rect class="d" x="166.3" y="789.2" width="21.8" height="63.5"/>
<rect class="g" x="190" y="789.5" width="15.6" height="55.8"/>
<line class="g" x1="190" y1="794.15" x2="205.6" y2="794.15"/>
<line class="g" x1="190" y1="798.8" x2="205.6" y2="798.8"/>
<line class="g" x1="190" y1="803.45" x2="205.6" y2="803.45"/>
<line class="g" x1="190" y1="808.1" x2="205.6" y2="808.1"/>
<line class="g" x1="190" y1="812.75" x2="205.6" y2="812.75"/>
<line class="g" x1="190" y1="817.4" x2="205.6" y2="817.4"/>
<line class="g" x1="190" y1="822.05" x2="205.6" y2="822.05"/>
<line class="g" x1="190" y1="826.7" x2="205.6" y2="826.7"/>
<line class="g" x1="190" y1="831.35" x2="205.6" y2="831.35"/>
<line class="g" x1="190" y1="836" x2="205.6" y2="836"/>
<line class="g" x1="190" y1="840.65" x2="205.6" y2="840.65"/>
<line class="g" x1="197.8" y1="789.5" x2="197.8" y2="845.3"/>
<rect class="g" x="166.3" y="845.3" width="61.1" height="6.7"/>
<line class="g" x1="173" y1="845.3" x2="173" y2="852"/>
<line class="g" x1="179.6" y1="845.3" x2="179.6" y2="852"/>
<line class="g" x1="186.2" y1="845.3" x2="186.2" y2="852"/>
<line class="g" x1="192.8" y1="845.3" x2="192.8" y2="852"/>
<line class="g" x1="199.4" y1="845.3" x2="199.4" y2="852"/>
<line class="g" x1="206" y1="845.3" x2="206" y2="852"/>
<line class="g" x1="212.6" y1="845.3" x2="212.6" y2="852"/>
<line class="g" x1="219.2" y1="845.3" x2="219.2" y2="852"/>
<rect class="t" x="166.3" y="852" width="62.3" height="4.2"/>
<rect class="wb" x="204" y="701.3" width="46" height="3.2"/>
<line class="wl" x1="204" y1="709.9" x2="250" y2="709.9"/>
<line class="g" x1="180.7" y1="709.9" x2="180.7" y2="758"/>
<path class="t" d="M188,709.9 L190.2,709.9 L190.2,755.8 L230,755.8 L230,758 L188,758 Z"/>
<line class="g" x1="230" y1="757" x2="244" y2="757"/>
<rect class="t" x="260" y="709.9" width="2.5" height="48"/>
<rect class="g" x="202.5" y="717" width="38.5" height="23"/>
<path class="dr" d="M205,715 l2,-1.5 l2,1.5 M205,742 l2,1.5 l2,-1.5"/>
<path class="dr" d="M211,715 l2,-1.5 l2,1.5 M211,742 l2,1.5 l2,-1.5"/>
<path class="dr" d="M217,715 l2,-1.5 l2,1.5 M217,742 l2,1.5 l2,-1.5"/>
<path class="dr" d="M223,715 l2,-1.5 l2,1.5 M223,742 l2,1.5 l2,-1.5"/>
<path class="dr" d="M229,715 l2,-1.5 l2,1.5 M229,742 l2,1.5 l2,-1.5"/>
<path class="dr" d="M235,715 l2,-1.5 l2,1.5 M235,742 l2,1.5 l2,-1.5"/>
<path class="dr" d="M259.5,757 L259.5,743 A14,14 0 0 0 245,757"/>
<path class="t" d="M262.5,755.5 L302,755.5 L302,710 L304.5,710 L304.5,758 L262.5,758 Z"/>
<rect class="g" x="266.5" y="735" width="7" height="7.5"/>
<ellipse class="g" cx="283.8" cy="750.2" rx="3.4" ry="4.7"/>
<path class="dr" d="M304.5,722 L318,722 A13.5,13.5 0 0 1 304.5,736"/>
<path class="dr" d="M281.2,709.9 L281.2,695 A14.9,14.9 0 0 1 296.5,709.9"/>
<rect class="wb" x="296.8" y="590.5" width="2.8" height="96.5"/>
<line class="wl" x1="305.3" y1="590.5" x2="305.3" y2="687"/>
<rect class="g" x="301.8" y="594.3" width="2" height="2"/>
<rect class="g" x="301.8" y="602.3" width="2" height="2"/>
<rect class="g" x="301.8" y="607" width="2" height="2"/>
<path class="t" d="M238.3,784.7 L332.8,784.7 L332.8,847.7 L330.4,847.7 L330.4,787.1 L268.6,787.1 L268.6,798 L238.3,798 Z"/>
<path class="dr" d="M253,790 q5,4 9,0 q0,-5 -4,-8 q-4,3 -5,8 M258,782 l4,-5"/>
<rect class="g" x="292.8" y="788.3" width="30.3" height="7.3"/>
<line class="d" x1="268.6" y1="793.2" x2="330" y2="793.2"/>
<rect class="g" x="189.8" y="789.5" width="15.8" height="55.8"/>
<line class="g" x1="189.8" y1="794.15" x2="205.6" y2="794.15"/>
<line class="g" x1="189.8" y1="798.8" x2="205.6" y2="798.8"/>
<line class="g" x1="189.8" y1="803.45" x2="205.6" y2="803.45"/>
<line class="g" x1="189.8" y1="808.1" x2="205.6" y2="808.1"/>
<line class="g" x1="189.8" y1="812.75" x2="205.6" y2="812.75"/>
<line class="g" x1="189.8" y1="817.4" x2="205.6" y2="817.4"/>
<line class="g" x1="189.8" y1="822.05" x2="205.6" y2="822.05"/>
<line class="g" x1="189.8" y1="826.7" x2="205.6" y2="826.7"/>
<line class="g" x1="189.8" y1="831.35" x2="205.6" y2="831.35"/>
<line class="g" x1="189.8" y1="836" x2="205.6" y2="836"/>
<line class="g" x1="189.8" y1="840.65" x2="205.6" y2="840.65"/>
<rect class="d" x="208.7" y="822.3" width="46.6" height="18.7"/>
<path class="t" d="M257.7,856.2 L257.7,817.4 L268.6,817.4 L268.6,820 L260.2,820 L260.2,856.2 Z"/>
<line class="g" x1="260.2" y1="822" x2="268.6" y2="822"/>
<line class="g" x1="260.2" y1="826.8" x2="268.6" y2="826.8"/>
<line class="g" x1="260.2" y1="831.6" x2="268.6" y2="831.6"/>
<line class="g" x1="260.2" y1="836.4" x2="268.6" y2="836.4"/>
<line class="g" x1="260.2" y1="841.2" x2="268.6" y2="841.2"/>
<line class="g" x1="260.2" y1="846" x2="268.6" y2="846"/>
<line class="g" x1="260.2" y1="850.8" x2="268.6" y2="850.8"/>
<rect class="g" x="269.8" y="824.7" width="26.7" height="16.9"/>
<rect class="g" x="271.5" y="827" width="11" height="11.5"/>
<rect class="g" x="284" y="827" width="11" height="11.5"/>
<rect class="g" x="272" y="843" width="22" height="12"/>
<rect class="g" x="297.7" y="821" width="32.7" height="30.3"/>
<rect class="t2" x="313.4" y="821" width="2.4" height="30.3"/>
<path class="dr" d="M311.5,821 L311.5,834 A13,13 0 0 1 299,821"/>
<path class="dr" d="M328.4,821 L328.4,834 A13,13 0 0 1 317,821"/>
<ellipse class="g" cx="305.3" cy="845.8" rx="3.2" ry="4.6"/><ellipse class="g" cx="322" cy="845.8" rx="3.2" ry="4.6"/>
<rect class="t" x="185" y="852" width="43.6" height="4.2"/>
<rect class="t" x="257.7" y="852" width="73.1" height="4.2"/>
<path class="dr" d="M239.5,856.2 L239.5,872.5 A16.3,16.3 0 0 0 256,856.2"/>
<rect class="wb" x="55.5" y="876" width="3.4" height="35"/>
<line class="wl" x1="64" y1="876" x2="64" y2="911"/>
<rect class="g" x="53.5" y="876" width="18" height="35"/>
<rect class="g" x="60" y="880" width="2" height="2"/>
<rect class="g" x="60" y="886" width="2" height="2"/>
<rect class="g" x="60" y="893" width="2" height="2"/>
<rect class="wb" x="55.5" y="939" width="3.4" height="47"/>
<line class="wl" x1="64" y1="939" x2="64" y2="986"/>
<rect class="wb" x="55.5" y="982.6" width="33.5" height="3.4"/>
<line class="wl" x1="55.5" y1="977.5" x2="89" y2="977.5"/>
<line class="g" x1="89" y1="977.5" x2="89" y2="986"/>
<line class="g" x1="119" y1="977.5" x2="119" y2="986"/>
<path class="dr" d="M88.5,983.4 L88.5,998 A14.6,14.6 0 0 0 103.5,983.4"/>
<path class="dr" d="M118.6,983.4 L118.6,998 A14.6,14.6 0 0 1 103.6,983.4"/>
<line class="g" x1="276" y1="977.5" x2="276" y2="986"/>
<line class="g" x1="306" y1="977.5" x2="306" y2="986"/>
<path class="dr" d="M276,983.4 L276,998 A14.6,14.6 0 0 0 291,983.4"/>
<path class="dr" d="M306,983.4 L306,998 A14.6,14.6 0 0 1 291.1,983.4"/>
<line class="wl" x1="64" y1="977.5" x2="331.6" y2="977.5"/>
<path class="cl" d="M190.3,856 L190.3,902 L204.7,902 L204.7,856"/>
<line class="g" x1="191.5" y1="878" x2="191.5" y2="900"/>
<path class="g" d="M191,903 L204,905.5 L191,908 L204,910"/>
<line class="d" x1="190.3" y1="910" x2="190.3" y2="932.7"/>
<line class="d" x1="204.7" y1="910" x2="204.7" y2="932.7"/>
<path class="cl" d="M190.3,978 L190.3,932.7 L204.7,932.7 L204.7,978"/>
<line class="g" x1="203.5" y1="934" x2="203.5" y2="955"/>
<line class="d" x1="186.5" y1="866" x2="186.5" y2="894.6"/>
<line class="d" x1="207.4" y1="936.5" x2="207.4" y2="969"/>
<rect class="g" x="137.5" y="906.5" width="7.5" height="48.5"/>
<line class="g" x1="137.5" y1="917" x2="145" y2="917"/>
<rect class="d" x="159.5" y="924" width="23.5" height="41"/>
<circle class="g" cx="84.5" cy="954" r="7.8"/>
<circle class="gf" cx="91.57" cy="961.07" r="2.9"/>
<circle class="gf" cx="77.43" cy="961.07" r="2.9"/>
<circle class="gf" cx="77.43" cy="946.93" r="2.9"/>
<circle class="gf" cx="91.57" cy="946.93" r="2.9"/>
<circle class="gf" cx="84.5" cy="954" r="7.8"/>
<circle class="g" cx="222" cy="875.5" r="7.8"/>
<circle class="gf" cx="229.07" cy="882.57" r="2.9"/>
<circle class="gf" cx="214.93" cy="882.57" r="2.9"/>
<circle class="gf" cx="214.93" cy="868.43" r="2.9"/>
<circle class="gf" cx="229.07" cy="868.43" r="2.9"/>
<circle class="gf" cx="222" cy="875.5" r="7.8"/>
<rect class="g" x="262.5" y="909.5" width="48.5" height="8"/>
<rect class="d" x="296" y="864" width="24" height="37"/>
<circle class="dr" cx="20.00" cy="181.00" r="2.75"/>
<path class="dr" d="M13.26,179.62 Q17.79,175.54 20.00,177.23 M24.56,186.15 L19.25,188.10 M13.26,179.62 L14.85,185.56"/>
<circle class="dr" cx="48.50" cy="278.50" r="2.75"/>
<path class="dr" d="M45.22,272.45 Q51.26,273.30 48.50,274.73 M47.49,285.30 L42.58,282.49 M45.22,272.45 L41.70,277.49"/>
<circle class="dr" cx="200.30" cy="335.70" r="2.75"/>
<path class="dr" d="M207.18,335.89 Q203.42,340.69 200.30,331.93 M194.91,331.42 L199.81,328.58 M207.18,335.89 L204.58,330.31"/>
<circle class="dr" cx="290.00" cy="340.00" r="2.75"/>
<path class="dr" d="M295.39,335.72 Q295.60,341.82 290.00,336.23 M283.12,340.19 L285.04,334.86 M295.39,335.72 L289.81,333.12"/>
<circle class="dr" cx="281.00" cy="407.00" r="2.75"/>
<path class="dr" d="M278.82,400.48 Q284.62,402.36 281.00,403.23 M278.82,413.52 L274.48,409.90 M278.82,400.48 L274.48,404.82"/>
<circle class="dr" cx="204.00" cy="447.50" r="2.75"/>
<path class="dr" d="M210.74,448.88 Q206.21,452.96 204.00,443.73 M199.44,442.35 L204.75,440.40 M210.74,448.88 L209.15,442.94"/>
<circle class="dr" cx="208.00" cy="465.50" r="2.75"/>
<path class="dr" d="M214.53,463.32 Q212.64,469.12 208.00,461.73 M201.47,463.32 L205.10,458.98 M214.53,463.32 L210.18,458.98"/>
<circle class="dr" cx="492.00" cy="614.00" r="2.75"/>
<path class="dr" d="M498.05,610.72 Q497.20,616.76 492.00,610.23 M485.20,612.99 L488.01,608.08 M498.05,610.72 L493.01,607.20"/>
<circle class="dr" cx="387.50" cy="681.50" r="2.75"/>
<path class="dr" d="M381.10,678.97 Q386.28,675.74 387.50,677.73 M391.10,687.36 L385.53,688.36 M381.10,678.97 L381.64,685.10"/>
<circle class="dr" cx="416.50" cy="748.00" r="2.75"/>
<path class="dr" d="M415.12,754.74 Q411.04,750.21 416.50,744.23 M421.65,743.44 L423.60,748.75 M415.12,754.74 L421.06,753.15"/>
<circle class="dr" cx="377.50" cy="836.50" r="2.75"/>
<path class="dr" d="M381.78,841.89 Q375.68,842.10 377.50,832.73 M377.31,829.62 L382.64,831.54 M381.78,841.89 L384.38,836.31"/>
<circle class="dr" cx="548.50" cy="734.00" r="2.75"/>
<path class="dr" d="M546.33,727.48 Q552.12,729.36 548.50,730.23 M546.33,740.52 L541.98,736.90 M546.33,727.48 L541.98,731.83"/>
<circle class="dr" cx="554.00" cy="681.00" r="2.75"/>
<path class="dr" d="M548.85,676.44 Q554.82,675.17 554.00,677.23 M555.38,687.74 L549.80,686.77 M548.85,676.44 L547.26,682.38"/>
<circle class="dr" cx="130.50" cy="773.50" r="2.75"/>
<path class="dr" d="M128.32,766.98 Q134.12,768.86 130.50,769.73 M128.32,780.02 L123.97,776.40 M128.32,766.98 L123.97,771.33"/>
<circle class="dr" cx="257.50" cy="787.00" r="2.75"/>
<path class="dr" d="M256.12,793.74 Q252.04,789.21 257.50,783.23 M262.65,782.44 L264.60,787.75 M256.12,793.74 L262.06,792.15"/>
<circle class="dr" cx="225.50" cy="806.50" r="2.75"/>
<path class="dr" d="M232.38,806.69 Q228.62,811.49 225.50,802.73 M220.11,802.22 L225.01,799.38 M232.38,806.69 L229.78,801.11"/>
<circle class="dr" cx="85.00" cy="869.00" r="2.75"/>
<path class="dr" d="M90.86,872.60 Q85.21,874.88 85.00,865.23 M82.47,862.60 L88.13,862.58 M90.86,872.60 L91.40,866.47"/>
<circle class="dr" cx="225.50" cy="941.00" r="2.75"/>
<path class="dr" d="M230.65,945.56 Q224.68,946.83 225.50,937.23 M224.12,934.26 L229.70,935.23 M230.65,945.56 L232.24,939.62"/>
<rect class="w" x="175" y="16" width="8" height="74"/>
<path class="w" d="M90,141.5 L132.6,141.5 L132.6,107 L183.7,107 L183.7,115.8 L141.5,115.8 L141.5,141.5 L183.7,141.5 L183.7,149.5 L90,149.5 Z"/>
<path class="w" d="M3,141 L72.5,141 L72.5,150 L11.6,150 L11.6,172 L3,172 Z"/>
<rect class="w" x="3" y="205.5" width="8.6" height="47.5"/>
<path class="w" d="M66.5,292.2 L180.7,292.2 L180.7,284.5 L183.5,284.5 L183.5,312.4 L175,312.4 L175,300.7 L66.5,300.7 Z"/>
<rect class="w" x="209.5" y="16" width="78.5" height="8"/>
<rect class="w" x="279.5" y="72" width="8" height="72"/>
<rect class="w" x="279.5" y="152.5" width="8" height="61.5"/>
<rect class="w" x="279.5" y="224" width="8" height="6"/>
<rect class="w" x="279.5" y="240" width="8" height="6"/>
<path class="w" d="M279.5,283 L287.2,283 L287.2,291 L297.5,291 L297.5,300 L279.5,300 Z"/>
<rect class="w" x="175" y="360" width="8" height="22"/>
<rect class="w" x="175" y="417" width="8" height="22.5"/>
<rect class="w" x="175" y="472" width="8" height="57.5"/>
<path class="w" d="M253,569 L305.5,569 L305.5,590.5 L296.5,590.5 L296.5,577 L253,577 Z"/>
<rect class="w" x="331" y="292" width="73" height="9"/>
<rect class="w" x="451" y="292" width="8.5" height="15.5"/>
<rect class="w" x="451" y="341" width="8.5" height="56.5"/>
<rect class="w" x="451" y="445" width="8.5" height="60"/>
<path class="w" d="M451,522.5 L459.5,522.5 L459.5,568.8 L466,568.8 L466,577 L451,577 Z"/>
<rect class="w" x="474" y="568.8" width="16" height="8.2"/>
<rect class="w" x="515" y="568.8" width="51" height="8.2"/>
<path class="w" d="M599.4,568.8 L616,568.8 L616,604 L607.7,604 L607.7,577 L599.4,577 Z"/>
<rect class="w" x="607.7" y="651" width="8.3" height="94"/>
<rect class="w" x="607.7" y="779" width="8.3" height="26.5"/>
<rect class="w" x="435.5" y="844.3" width="116.5" height="8.6"/>
<path class="w" d="M331.6,844.3 L361,844.3 L361,852.9 L339.5,852.9 L339.5,878 L331.6,878 Z"/>
<rect class="w" x="331.6" y="911" width="7.9" height="27.7"/>
<path class="w" d="M55,702 L72.5,702 L72.5,710.5 L64,710.5 L64,737 L55,737 Z"/>
<rect class="w" x="105.5" y="702" width="50" height="8.5"/>
<rect class="w" x="180" y="702" width="24" height="8.5"/>
<rect class="w" x="250" y="702" width="30" height="8.5"/>
<rect class="w" x="296.5" y="687" width="9" height="23"/>
<rect class="w" x="55.5" y="784" width="8.5" height="20"/>
<rect class="w" x="55.5" y="813" width="8.5" height="63"/>
<rect class="w" x="55.5" y="911" width="8.5" height="28"/>
<rect class="w" x="119" y="978" width="157" height="8.3"/>
<text class="L" x="47.6" y="40" textLength="73.1" lengthAdjust="spacingAndGlyphs">outdoor storage</text>
<text class="L" x="47.5" y="102.7" textLength="76.3" lengthAdjust="spacingAndGlyphs">outdoor sleeping</text>
<text class="L" x="146" y="130.3" textLength="26.6" lengthAdjust="spacingAndGlyphs">depot</text>
<text class="L" x="218" y="37.9" textLength="49.5" lengthAdjust="spacingAndGlyphs">employees</text>
<text class="L" x="215.5" y="158.2" textLength="52.5" lengthAdjust="spacingAndGlyphs">e-wardrobe</text>
<text class="L" x="122.5" y="182.2" textLength="47" lengthAdjust="spacingAndGlyphs">restrooms</text>
<text class="L" x="130" y="275.2" textLength="42.5" lengthAdjust="spacingAndGlyphs">wardrobe</text>
<text class="L" x="226" y="277.7" textLength="40" lengthAdjust="spacingAndGlyphs">entrance</text>
<text class="L" x="195" y="353.2" textLength="66" lengthAdjust="spacingAndGlyphs">common room</text>
<text class="L" x="369" y="313.7" textLength="59" lengthAdjust="spacingAndGlyphs">activity room</text>
<text class="L" x="343" y="408.2" textLength="21.5" lengthAdjust="spacingAndGlyphs">copy</text>
<text class="L" x="394" y="427.2" textLength="26" lengthAdjust="spacingAndGlyphs">office</text>
<text class="L" x="223" y="416.2" textLength="34" lengthAdjust="spacingAndGlyphs">kitchen</text>
<text class="L" x="241" y="465.5" textLength="28" lengthAdjust="spacingAndGlyphs">depot</text>
<text class="L" x="336" y="486.2" textLength="34" lengthAdjust="spacingAndGlyphs">e-toilet</text>
<text class="L" x="336" y="512.7" textLength="34.5" lengthAdjust="spacingAndGlyphs">laundry</text>
<text class="L" x="392.5" y="535.7" textLength="45" lengthAdjust="spacingAndGlyphs">technique</text>
<text class="L" x="197" y="520.7" textLength="60" lengthAdjust="spacingAndGlyphs">activity room</text>
<text class="L" x="340.5" y="598.2" textLength="15" lengthAdjust="spacingAndGlyphs">dis.</text>
<text class="L" x="340.5" y="610.2" textLength="23.5" lengthAdjust="spacingAndGlyphs">toilet</text>
<text class="L" x="413" y="598.7" textLength="64.5" lengthAdjust="spacingAndGlyphs">meeting room</text>
<text class="L" x="530.5" y="602.4" textLength="59.1" lengthAdjust="spacingAndGlyphs">activity room</text>
<text class="L" x="350.5" y="676.2" textLength="36.5" lengthAdjust="spacingAndGlyphs">lavatory</text>
<text class="L" x="416" y="688.2" textLength="42" lengthAdjust="spacingAndGlyphs">wardrobe</text>
<text class="L" x="488.5" y="686.2" textLength="42.5" lengthAdjust="spacingAndGlyphs">wardrobe</text>
<text class="L" x="558.5" y="676.7" textLength="36" lengthAdjust="spacingAndGlyphs">lavatory</text>
<text class="L" x="372.5" y="810.7" textLength="52" lengthAdjust="spacingAndGlyphs">group room</text>
<text class="L" x="540" y="784.7" textLength="53" lengthAdjust="spacingAndGlyphs">group room</text>
<text class="L" x="199.5" y="731.2" textLength="37.5" lengthAdjust="spacingAndGlyphs">meeting</text>
<text class="L" x="274.5" y="726.2" textLength="15.5" lengthAdjust="spacingAndGlyphs">dis.</text>
<text class="L" x="274.5" y="738.2" textLength="23.5" lengthAdjust="spacingAndGlyphs">toilet</text>
<text class="L" x="66" y="765.7" textLength="59" lengthAdjust="spacingAndGlyphs">activity room</text>
<text class="L" x="76" y="813.2" textLength="36.5" lengthAdjust="spacingAndGlyphs">lavatory</text>
<text class="L" x="140" y="821.7" textLength="43" lengthAdjust="spacingAndGlyphs">wardrobe</text>
<text class="L" x="210.5" y="821.7" textLength="42.5" lengthAdjust="spacingAndGlyphs">wardrobe</text>
<text class="L" x="275" y="813.7" textLength="37" lengthAdjust="spacingAndGlyphs">lavatory</text>
<text class="L" x="81" y="931.2" textLength="53" lengthAdjust="spacingAndGlyphs">group room</text>
<text class="L" x="239" y="931.7" textLength="52" lengthAdjust="spacingAndGlyphs">group room</text>
<text class="S" x="141" y="236.8" textLength="23" lengthAdjust="spacingAndGlyphs">skylight</text>
<text class="S" x="71.3" y="197.7" textLength="21.4" lengthAdjust="spacingAndGlyphs">skylight</text>
<text class="S" x="252.5" y="331.3" textLength="22" lengthAdjust="spacingAndGlyphs">skylight</text>
<text class="S" x="361" y="329.8" textLength="21.5" lengthAdjust="spacingAndGlyphs">skylight</text>
<text class="S" x="267.5" y="526.3" textLength="22" lengthAdjust="spacingAndGlyphs">skylight</text>
<text class="S" x="526.5" y="614.3" textLength="22.5" lengthAdjust="spacingAndGlyphs">skylight</text>
<text class="S" x="364" y="764.3" textLength="21.5" lengthAdjust="spacingAndGlyphs">skylight</text>
<text class="S" x="491" y="827.3" textLength="22" lengthAdjust="spacingAndGlyphs">skylight</text>
<text class="S" x="105.5" y="733.3" textLength="22" lengthAdjust="spacingAndGlyphs">skylight</text>
<text class="S" x="166" y="798.3" textLength="21.5" lengthAdjust="spacingAndGlyphs">skylight</text>
<text class="S" x="298" y="873.3" textLength="22" lengthAdjust="spacingAndGlyphs">skylight</text>
<text class="S" x="162" y="958.3" textLength="22" lengthAdjust="spacingAndGlyphs">skylight</text>
<text class="S" x="235.5" y="839.8" textLength="21.5" lengthAdjust="spacingAndGlyphs">ovenlys</text>
</svg>
</body></html>
